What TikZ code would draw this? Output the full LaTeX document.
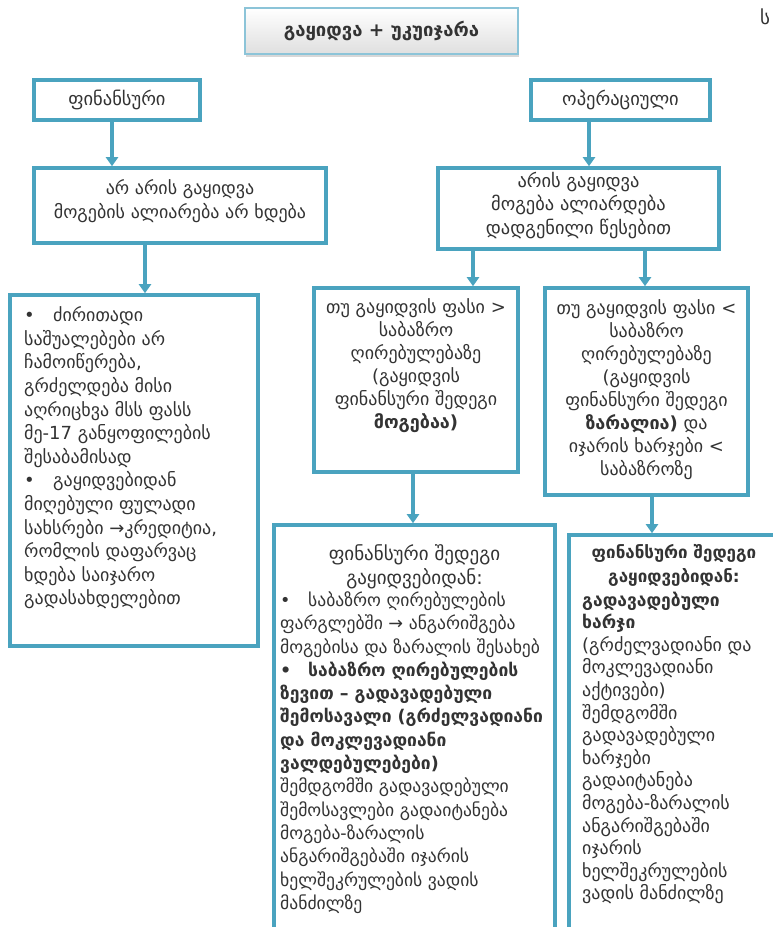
\documentclass[tikz,border=0pt]{standalone}
\usepackage{fontspec}
\setmainfont{DejaVu Sans}
\usetikzlibrary{arrows.meta,shadows}
\definecolor{frame}{HTML}{4AA3BF}
\definecolor{ink}{HTML}{333333}
\definecolor{titleedge}{HTML}{8CC4D8}
% fixed-height first line so every text block starts at a known baseline
\newcommand\firstline{\rule{0pt}{1em}}
\newcommand\sz[2]{\fontsize{#1}{#2}\selectfont}

\begin{document}
\begin{tikzpicture}[x=1pt,y=-1pt,
  panel/.style={draw=frame, line width=3.6pt, fill=white, inner sep=0pt, rectangle},
  link/.style={draw=frame, line width=3.6pt, -{Triangle[length=9pt,width=12pt]}},
  txt/.style={text=ink, inner sep=0pt, font=\sz{18}{23}, execute at begin node=\firstline},
  label/.style={text=ink, inner sep=0pt, font=\sz{18.5}{22}},
  headbox/.style={draw=titleedge, line width=1.2pt, top color=white, bottom color=gray!25,
    drop shadow={shadow xshift=1pt, shadow yshift=-3pt, opacity=0.45, fill=gray!70},
    inner sep=0pt, minimum width=273pt, minimum height=46pt,
    font=\sz{18.5}{22}\bfseries, text=ink},
]
\useasboundingbox (0,0) rectangle (773,927);
\clip (0,0) rectangle (773,927);

% heading
\node[headbox] (head) at (381.5,31) {გაყიდვა + უკუიჯარა};
\node[label, font=\sz{19}{22}] (mark) at (765,17) {ს};

% left branch
\node[panel, minimum width=166pt, minimum height=40pt] (fin) at (117,100) {};
\node[label] (finT) at (fin.center) {ფინანსური};
\node[panel, minimum width=292pt, minimum height=75pt] (nosale) at (180,205.5) {};
\node[txt, align=center, anchor=north, font=\sz{18}{24}] (nosaleT) at (180,179.5) {არ არის გაყიდვა\\მოგების ალიარება არ ხდება};
\node[panel, minimum width=248pt, minimum height=351pt] (lbox) at (134,470.5) {};
\node[txt, align=left, anchor=north west, font=\sz{18}{23.6}] (lboxT) at (24,306.5)
 {\makebox[29pt][l]{•}ძირითადი\\
  საშუალებები არ\\
  ჩამოიწერება,\\
  გრძელდება მისი\\
  აღრიცხვა მსს ფასს\\
  მე-17 განყოფილების\\
  შესაბამისად\\
  \makebox[29pt][l]{•}გაყიდვებიდან\\
  მიღებული ფულადი\\
  სახსრები →კრედიტია,\\
  რომლის დაფარვაც\\
  ხდება საიჯარო\\
  გადასახდელებით};

% right branch
\node[panel, minimum width=179pt, minimum height=40pt] (op) at (620.5,100) {};
\node[label] (opT) at (op.center) {ოპერაციული};
\node[panel, minimum width=281pt, minimum height=81pt] (sale) at (578.5,208.5) {};
\node[txt, align=center, anchor=north, font=\sz{18.4}{23.5}] (saleT) at (578.5,171.5) {არის გაყიდვა\\მოგება ალიარდება\\დადგენილი წესებით};

\node[panel, minimum width=204pt, minimum height=184pt] (gt) at (416,380) {};
\node[txt, align=center, anchor=north] (gtT) at (416,298.5)
 {თუ გაყიდვის ფასი >\\საბაზრო\\ღირებულებაზე\\(გაყიდვის\\ფინანსური შედეგი\\\textbf{მოგებაა)}};
\node[panel, minimum width=203pt, minimum height=207pt] (lt) at (646.5,391.5) {};
\node[txt, align=center, anchor=north] (ltT) at (646.5,299.5)
 {თუ გაყიდვის ფასი <\\საბაზრო\\ღირებულებაზე\\(გაყიდვის\\ფინანსური შედეგი\\\textbf{ზარალია)} და\\იჯარის ხარჯები <\\საბაზროზე};

\node[panel, minimum width=281pt, minimum height=435pt] (gtres) at (414.5,742.5) {};
\node[txt, align=center, anchor=north, font=\sz{19}{24}] (gtresH) at (414.5,544.5)
 {ფინანსური შედეგი\\გაყიდვებიდან:};
\node[txt, align=left, anchor=north west, font=\sz{17.6}{23.3}] (gtresT) at (280,591.5)
 {\makebox[28pt][l]{•}საბაზრო ღირებულების\\
  ფარგლებში → ანგარიშგება\\
  მოგებისა და ზარალის შესახებ\\
  {\sz{17.5}{23.3}\bfseries\makebox[28pt][l]{•}საბაზრო ღირებულების}\\
  {\sz{17.5}{23.3}\bfseries ზევით – გადავადებული}\\
  {\sz{17.5}{23.3}\bfseries შემოსავალი (გრძელვადიანი}\\
  {\sz{17.5}{23.3}\bfseries და მოკლევადიანი}\\
  {\sz{17.5}{23.3}\bfseries ვალდებულებები)}\\
  შემდგომში გადავადებული\\
  შემოსავლები გადაიტანება\\
  მოგება-ზარალის\\
  ანგარიშგებაში იჯარის\\
  ხელშეკრულების ვადის\\
  მანძილზე};

\node[panel, minimum width=231pt, minimum height=425pt] (ltres) at (684.5,747.5) {};
\node[txt, align=center, anchor=north, font=\sz{17}{24}\bfseries] (ltresH) at (674,544.5)
 {ფინანსური შედეგი\\გაყიდვებიდან:};
\node[txt, align=left, anchor=north west, font=\sz{18}{22.6}] (ltresT) at (582,591.5)
 {{\sz{17.5}{22.6}\bfseries გადავადებული}\\
  {\sz{17.5}{22.6}\bfseries ხარჯი}\\
  (გრძელვადიანი და\\
  მოკლევადიანი\\
  აქტივები)\\
  შემდგომში\\
  გადავადებული\\
  ხარჯები\\
  გადაიტანება\\
  მოგება-ზარალის\\
  ანგარიშგებაში\\
  იჯარის\\
  ხელშეკრულების\\
  ვადის მანძილზე};

% connectors
\coordinate (xa) at (112,0);
\coordinate (xb) at (145,0);
\coordinate (xc) at (589,0);
\coordinate (xd) at (473,0);
\coordinate (xe) at (645,0);
\coordinate (xf) at (413,0);
\coordinate (xg) at (652,0);
\draw[link] (fin.south -| xa) -- (nosale.north -| xa);
\draw[link] (nosale.south -| xb) -- (lbox.north -| xb);
\draw[link] (op.south -| xc) -- (sale.north -| xc);
\draw[link] (sale.south -| xd) -- (gt.north -| xd);
\draw[link] (sale.south -| xe) -- (lt.north -| xe);
\draw[link] (gt.south -| xf) -- (gtres.north -| xf);
\draw[link] (lt.south -| xg) -- (ltres.north -| xg);
\end{tikzpicture}
\end{document}
